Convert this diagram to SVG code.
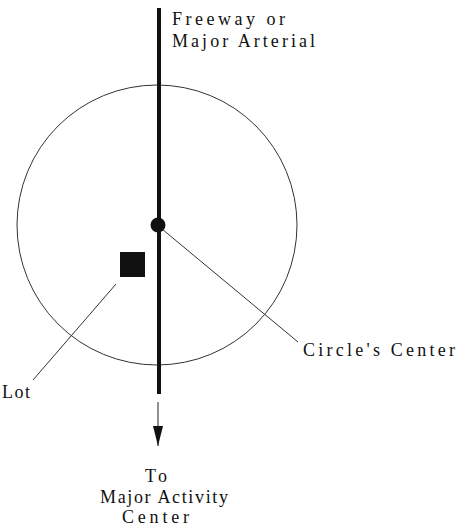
<svg xmlns="http://www.w3.org/2000/svg" width="469" height="528" viewBox="0 0 469 528">
<style>
text{font-family:"Liberation Serif","DejaVu Serif",serif;font-size:18px;fill:#111}
.thin{stroke:#333;stroke-width:1;fill:none}
</style>
<defs>
<marker id="ah" markerWidth="20" markerHeight="10" refX="20" refY="5" orient="auto" markerUnits="userSpaceOnUse" viewBox="0 0 20 10">
<path d="M0,0 L20,5 L0,10 Z" fill="#111"/>
</marker>
</defs>
<g id="circle"><circle cx="157" cy="225" r="140" fill="none" stroke="#333" stroke-width="1"/></g>
<g id="connectors">
<line x1="159" y1="8" x2="159" y2="394" stroke="#111" stroke-width="4"/>
<line x1="158" y1="402" x2="158" y2="446" stroke="#222" stroke-width="1" marker-end="url(#ah)"/>
<line class="thin" x1="162" y1="229" x2="298" y2="342"/>
<line class="thin" x1="116" y1="284" x2="33" y2="380"/>
</g>
<g id="center"><circle cx="158" cy="225" r="7.5" fill="#111"/></g>
<g id="lot"><rect x="120" y="252" width="25" height="25" fill="#111"/></g>
<g id="labels">
<text x="172" y="25" textLength="113" lengthAdjust="spacing">Freeway or</text>
<text x="172" y="47" textLength="143" lengthAdjust="spacing">Major Arterial</text>
<text x="303" y="356" textLength="152" lengthAdjust="spacing">Circle's Center</text>
<text x="2" y="398" textLength="28" lengthAdjust="spacing">Lot</text>
<text x="145" y="482" textLength="22" lengthAdjust="spacing">To</text>
<text x="100" y="503" textLength="128" lengthAdjust="spacing">Major Activity</text>
<text x="122" y="523" textLength="67" lengthAdjust="spacing">Center</text>
</g>
</svg>
